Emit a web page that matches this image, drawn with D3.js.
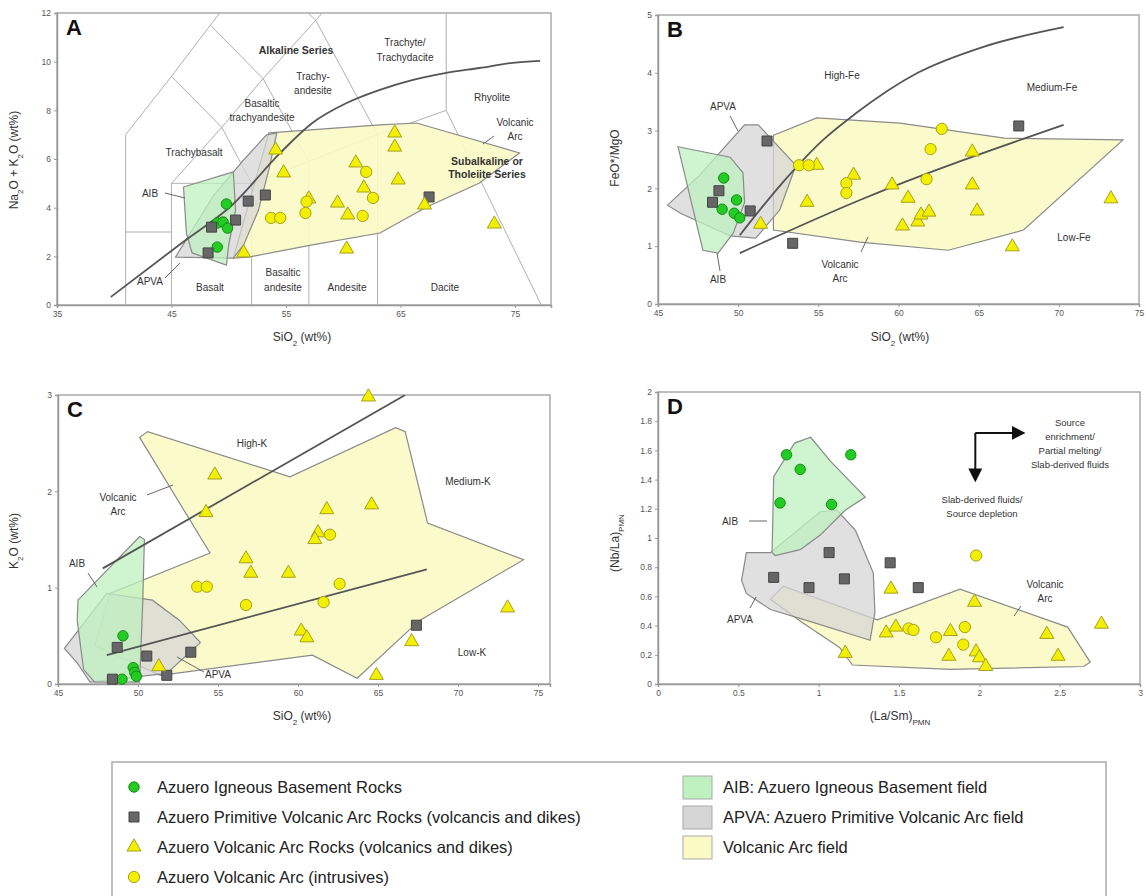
<!DOCTYPE html>
<html>
<head>
<meta charset="utf-8">
<script src="https://cdn.jsdelivr.net/npm/d3@7"></script>
<style>
  body { margin: 0; background: #fff; }
  text { font-family: Arial, "Liberation Sans", sans-serif; }
</style>
</head>
<body>
<svg id="chart" width="1146" height="896"></svg>
<script>
// ---------- data ----------
// A: TAS (SiO2 vs Na2O+K2O)
const tasAib = [[49.8,4.15],[49.0,3.37],[49.5,3.41],[49.9,3.16],[49.0,2.38]];
const tasApva = [[51.7,4.27],[53.2,4.52],[50.6,3.49],[48.5,3.2],[48.2,2.14],[67.5,4.44]];
const tasArcVolc = [[54.1,6.37],[54.8,5.43],[51.3,2.14],[57.0,4.36],[59.5,4.19],[60.4,3.70],[61.1,5.84],
  [61.8,4.81],[60.3,2.30],[64.5,7.07],[64.5,6.49],[64.8,5.14],[67.1,4.11],[73.2,3.33]];
const tasArcIntr = [[53.7,3.58],[54.5,3.58],[56.8,4.25],[56.7,3.78],[62.0,5.47],[62.6,4.40],[61.7,3.66]];
const tasFieldAib = [[46.05,4.85],[50.4,5.47],[50.6,3.9],[50.0,2.47],[49.8,1.64],[46.8,2.14],[46.3,2.96]];
const tasFieldApva = [[45.35,1.97],[48.7,4.52],[51.3,5.96],[53.3,6.99],[54.2,7.07],[53.5,5.55],[52.6,3.9],[51.3,2.47],[50.4,1.93]];
const tasFieldArc = [[53.5,7.07],[63.2,7.40],[66.4,7.48],[75.4,6.25],[71.9,5.01],[67.3,4.03],[63.2,2.96],[57.3,2.47],[51.75,1.97],[50.4,1.93]];
const tasGrid = [
  [[41,0],[41,7],[45,9.4],[48.4,11.5],[52.5,14]],
  [[45,0],[45,5],[49.4,7.3],[53,9.3],[57.6,11.7],[61,13.5]],
  [[52,0],[52,5],[57,5.9],[63,7],[69,8],[69,12]],
  [[57,0],[57,5.9]], [[63,0],[63,7]], [[69,8],[77.3,0]],
  [[41,3],[45,3]], [[45,5],[52,5]], [[45,9.4],[49.4,7.3]], [[49.4,7.3],[52,5]],
  [[48.4,11.5],[53,9.3]], [[53,9.3],[57,5.9]], [[52.5,14],[57.6,11.7]], [[57.6,11.7],[63,7]]
];
const tasAlkDivide = [[39.7,0.33],[45.9,2.55],[50.3,4.11],[54.5,6.25],[57.3,7.48],[60.3,8.30],[63.2,8.84],
  [66.1,9.25],[69.0,9.54],[71.9,9.74],[74.8,9.95],[77.2,10.03]];

// B: SiO2 vs FeO*/MgO
const feAib = [[49.1,2.18],[49.9,1.80],[49.0,1.64],[49.75,1.57],[50.1,1.49]];
const feApva = [[48.8,1.96],[48.4,1.76],[50.75,1.61],[51.8,2.82],[53.4,1.05],[67.5,3.08]];
const feArcVolc = [[51.4,1.38],[54.3,1.76],[54.9,2.40],[57.2,2.23],[59.6,2.06],[60.6,1.83],[60.25,1.35],
  [61.2,1.42],[61.4,1.54],[61.9,1.59],[64.6,2.63],[64.6,2.06],[64.9,1.61],[67.1,0.99],[73.25,1.82]];
const feArcIntr = [[53.8,2.40],[54.4,2.40],[56.75,2.09],[56.75,1.92],[62.7,3.03],[62.0,2.68],[61.75,2.16]];
const feFieldAib = [[46.25,2.72],[49.5,2.54],[50.3,2.27],[50.4,1.76],[49.7,1.23],[48.75,0.88],[47.8,0.93]];
const feFieldApva = [[45.6,1.71],[47.6,2.23],[50.4,3.10],[51.25,3.10],[53.6,2.40],[52.6,1.63],[51.1,1.14],[49.5,1.18],[46.4,1.57]];
const feFieldArc = [[52.2,2.92],[54.9,3.22],[60.1,3.13],[66.6,2.87],[74.0,2.84],[67.8,1.28],[63.1,0.93],[57.6,1.07],[52.2,1.28]];
const feHighMed = [[50.1,1.19],[52.8,2.11],[55.3,2.84],[57.3,3.29],[61.2,4.0],[65.3,4.45],[70.3,4.79]];
const feMedLow = [[50.1,0.88],[57.6,1.8],[70.3,3.1]];

// C: SiO2 vs K2O
const kAib = [[49.06,0.50],[49.7,0.17],[49.8,0.12],[49.9,0.08],[49.0,0.05]];
const kApva = [[48.7,0.38],[50.55,0.29],[53.3,0.33],[51.8,0.09],[48.4,0.05],[67.4,0.61]];
const kArcVolc = [[54.8,2.17],[54.25,1.78],[51.3,0.18],[56.75,1.30],[57.05,1.15],[59.4,1.15],[61.8,1.81],
  [64.6,1.86],[64.4,2.98],[61.25,1.57],[61.05,1.50],[60.2,0.55],[60.55,0.48],[67.1,0.44],[64.9,0.09],[73.1,0.79]];
const kArcIntr = [[53.7,1.01],[54.3,1.01],[56.75,0.82],[62.0,1.55],[62.6,1.04],[61.6,0.85]];
const kFieldAib = [[46.25,0.87],[50.1,1.53],[50.4,1.5],[50.3,0.87],[50.1,0.02],[47.3,0.02],[46.6,0.15],[46.2,0.66]];
const kFieldApva = [[45.4,0.37],[48.05,0.94],[50.9,0.87],[52.6,0.66],[53.9,0.43],[51.8,0.11],[47.0,0.02],[46.2,0.22]];
const kFieldArc = [[50.1,2.56],[50.6,2.62],[59.5,2.15],[66.1,2.66],[66.7,2.62],[68.1,1.67],[74.1,1.29],[67.6,0.66],
  [63.7,0.06],[60.9,0.30],[51.4,0.09],[47.3,0.40],[48.25,0.94],[54.5,1.36]];
const kHighMed = [[47.8,1.2],[66.7,3.0]];
const kMedLow = [[48.05,0.30],[68.05,1.19]];

// D: (La/Sm)PMN vs (Nb/La)PMN
const nbAib = [[0.80,1.57],[0.885,1.47],[0.76,1.24],[1.08,1.23],[1.2,1.57]];
const nbApva = [[0.72,0.73],[0.94,0.66],[1.065,0.90],[1.16,0.72],[1.445,0.83],[1.62,0.66]];
const nbArcVolc = [[1.165,0.21],[1.45,0.65],[1.97,0.56],[1.42,0.35],[1.48,0.39],[1.82,0.36],[1.81,0.19],
  [1.98,0.22],[2.0,0.18],[2.04,0.12],[2.42,0.34],[2.49,0.19],[2.76,0.41]];
const nbArcIntr = [[1.98,0.88],[1.56,0.38],[1.59,0.37],[1.73,0.32],[1.91,0.39],[1.90,0.27]];
const nbFieldAib = [[0.71,0.90],[0.72,1.42],[0.85,1.65],[0.95,1.69],[1.07,1.53],[1.29,1.28],[1.165,1.19],[1.01,1.02],[0.885,0.92],[0.73,0.88]];
const nbFieldApva = [[0.55,0.90],[0.70,0.90],[1.01,1.18],[1.115,1.19],[1.23,1.05],[1.34,0.76],[1.35,0.49],[1.32,0.30],
  [1.26,0.32],[0.97,0.42],[0.70,0.51],[0.55,0.62],[0.52,0.71]];
const nbFieldArc = [[0.70,0.58],[0.78,0.67],[1.26,0.48],[1.365,0.44],[1.88,0.65],[2.55,0.39],[2.69,0.15],[2.65,0.12],
  [1.82,0.10],[1.21,0.13],[1.13,0.25],[0.9,0.42]];

const legendPoints = [
  "Azuero Igneous Basement Rocks",
  "Azuero Primitive Volcanic Arc Rocks (volcancis and dikes)",
  "Azuero Volcanic Arc Rocks (volcanics and dikes)",
  "Azuero Volcanic Arc (intrusives)"
];
const legendFields = [
  "AIB: Azuero Igneous Basement field",
  "APVA: Azuero Primitive Volcanic Arc field",
  "Volcanic Arc field"
];

// ---------- styles ----------
const col = {
  aib: "#22cc22", aibStroke: "#168a16",
  apva: "#666666", apvaStroke: "#444",
  arc: "#f2f000", arcStroke: "#a8a020",
  fAib: "#bff0c0", fApva: "#d6d6d6", fArc: "#fafac4",
  edge: "#8a8a8a", txt: "#333"
};

const svg = d3.select("#chart");
const line = (x, y) => d3.line().x(d => x(d[0])).y(d => y(d[1]));

function panel(o) {
  const x = d3.scaleLinear().domain(o.xDomain).range([o.left, o.right]);
  const y = d3.scaleLinear().domain(o.yDomain).range([o.bottom, o.top]);
  const g = svg.append("g");
  const id = "clip" + o.name;
  svg.append("clipPath").attr("id", id).append("rect")
    .attr("x", o.left).attr("y", o.top).attr("width", o.right - o.left).attr("height", o.bottom - o.top);

  g.append("rect").attr("x", o.left).attr("y", o.top)
    .attr("width", o.right - o.left).attr("height", o.bottom - o.top)
    .attr("fill", "#fff").attr("stroke", "#aaa").attr("stroke-width", 1.5);

  const inner = g.append("g").attr("clip-path", `url(#${id})`);

  const xAxis = d3.axisBottom(x).tickValues(o.xTicks).tickSize(3).tickFormat(o.xFmt || d3.format("d"));
  const yAxis = d3.axisLeft(y).tickValues(o.yTicks).tickSize(3).tickFormat(o.yFmt || d3.format("d"));
  const ax = g.append("g").attr("transform", `translate(0,${o.bottom})`).call(xAxis);
  const ay = g.append("g").attr("transform", `translate(${o.left},0)`).call(yAxis);
  [ax, ay].forEach(a => {
    a.select(".domain").attr("stroke", "#999").attr("stroke-width", 1.5);
    a.selectAll(".tick line").attr("stroke", "#999");
    a.selectAll(".tick text").attr("fill", "#555").attr("font-size", 8.5)
      .attr("font-family", "Arial, 'Liberation Sans', sans-serif");
  });

  g.append("text").attr("x", o.left + 9).attr("y", o.top + 22)
    .attr("font-size", 22).attr("font-weight", "bold").attr("fill", "#111").text(o.name);

  return { g, inner, x, y };
}

function fields(p, aib, apva, arc) {
  const l = line(p.x, p.y).curve(d3.curveLinearClosed);
  p.inner.append("path").attr("d", l(arc)).attr("fill", col.fArc).attr("fill-opacity", 0.9)
    .attr("stroke", col.edge).attr("stroke-width", 1.2);
  p.inner.append("path").attr("d", l(apva)).attr("fill", col.fApva).attr("fill-opacity", 0.75)
    .attr("stroke", col.edge).attr("stroke-width", 1.2);
  p.inner.append("path").attr("d", l(aib)).attr("fill", col.fAib).attr("fill-opacity", 0.75)
    .attr("stroke", col.edge).attr("stroke-width", 1.2);
}

function boundary(p, pts, curve) {
  p.inner.append("path").attr("d", line(p.x, p.y).curve(curve || d3.curveLinear)(pts))
    .attr("fill", "none").attr("stroke", "#555").attr("stroke-width", 1.8);
}

const sym = {
  circle: d3.symbol().type(d3.symbolCircle).size(85),
  square: d3.symbol().type(d3.symbolSquare).size(100),
  triangle: d3.symbol().type(d3.symbolTriangle).size(85),
  bigCircle: d3.symbol().type(d3.symbolCircle).size(100)
};

function points(p, aib, apva, volc, intr) {
  const draw = (data, s, fill, stroke) => p.g.append("g").selectAll("path").data(data).join("path")
    .attr("transform", d => `translate(${p.x(d[0])},${p.y(d[1])})`)
    .attr("d", s).attr("fill", fill).attr("stroke", stroke).attr("stroke-width", 1);
  draw(aib, sym.circle(), col.aib, col.aibStroke);
  draw(apva, sym.square(), col.apva, col.apvaStroke);
  draw(volc, sym.triangle(), col.arc, col.arcStroke);
  draw(intr, sym.bigCircle(), col.arc, col.arcStroke);
}

function label(p, px, py, lines, opt = {}) {
  const t = p.g.append("text").attr("x", px).attr("y", py)
    .attr("font-size", opt.size || 10).attr("fill", opt.color || col.txt)
    .attr("text-anchor", opt.anchor || "middle").attr("font-weight", opt.bold ? "bold" : null);
  lines.forEach((s, i) => t.append("tspan").attr("x", px).attr("dy", i ? (opt.lh || 13) : 0).text(s));
}

function leader(p, x1, y1, x2, y2) {
  p.g.append("line").attr("x1", x1).attr("y1", y1).attr("x2", x2).attr("y2", y2)
    .attr("stroke", "#666").attr("stroke-width", 1);
}

function axisTitleX(cx, cy, parts) {
  const t = svg.append("text").attr("x", cx).attr("y", cy).attr("text-anchor", "middle")
    .attr("font-size", 12).attr("fill", "#333");
  parts.forEach(([s, sub]) => t.append("tspan").attr("font-size", sub ? 8 : 12)
    .attr("baseline-shift", sub ? "sub" : null).text(s));
}
function axisTitleY(cx, cy, parts) {
  const t = svg.append("text").attr("transform", `translate(${cx},${cy}) rotate(-90)`)
    .attr("text-anchor", "middle").attr("font-size", 12).attr("fill", "#333");
  parts.forEach(([s, sub]) => t.append("tspan").attr("font-size", sub ? 8 : 12)
    .attr("baseline-shift", sub ? "sub" : null).text(s));
}

// ---------- Panel A ----------
const pA = panel({ name: "A", left: 57, right: 551, top: 13, bottom: 305,
  xDomain: [35, 78.15], yDomain: [0, 12], xTicks: [35, 45, 55, 65, 75], yTicks: [0, 2, 4, 6, 8, 10, 12] });
tasGrid.forEach(seg => pA.inner.append("path").attr("d", line(pA.x, pA.y)(seg))
  .attr("fill", "none").attr("stroke", "#b0b0b0").attr("stroke-width", 1));
fields(pA, tasFieldAib, tasFieldApva, tasFieldArc);
boundary(pA, tasAlkDivide, d3.curveMonotoneX);
points(pA, tasAib, tasApva, tasArcVolc, tasArcIntr);
label(pA, 296, 54, ["Alkaline Series"], { bold: true, size: 10.5 });
label(pA, 405, 46, ["Trachyte/", "Trachydacite"], { lh: 15 });
label(pA, 313, 80, ["Trachy-", "andesite"], { lh: 14 });
label(pA, 262, 107, ["Basaltic", "trachyandesite"], { lh: 14 });
label(pA, 194, 156, ["Trachybasalt"]);
label(pA, 150, 197, ["AIB"]);
leader(pA, 165, 193, 185, 198);
label(pA, 150, 285, ["APVA"]);
leader(pA, 165, 278, 180, 263);
label(pA, 210, 291, ["Basalt"]);
label(pA, 283, 276, ["Basaltic", "andesite"], { lh: 15 });
label(pA, 347, 291, ["Andesite"]);
label(pA, 445, 291, ["Dacite"]);
label(pA, 492, 101, ["Rhyolite"]);
label(pA, 515, 126, ["Volcanic", "Arc"], { lh: 14 });
leader(pA, 494, 136, 483, 144);
label(pA, 487, 165, ["Subalkaline or", "Tholeiite Series"], { bold: true, size: 10.5, lh: 13 });
axisTitleY(18, 160, [["Na"], ["2", 1], ["O + K"], ["2", 1], ["O (wt%)"]]);
axisTitleX(302, 341, [["SiO"], ["2", 1], [" (wt%)"]]);

// ---------- Panel B ----------
const pB = panel({ name: "B", left: 658, right: 1139, top: 15, bottom: 304,
  xDomain: [45, 75], yDomain: [0, 5], xTicks: [45, 50, 55, 60, 65, 70, 75], yTicks: [0, 1, 2, 3, 4, 5] });
fields(pB, feFieldAib, feFieldApva, feFieldArc);
boundary(pB, feHighMed, d3.curveMonotoneX);
boundary(pB, feMedLow, d3.curveMonotoneX);
points(pB, feAib, feApva, feArcVolc, feArcIntr);
label(pB, 842, 79, ["High-Fe"]);
label(pB, 1052, 91, ["Medium-Fe"]);
label(pB, 1074, 241, ["Low-Fe"]);
label(pB, 723, 110, ["APVA"]);
leader(pB, 730, 116, 738, 131);
label(pB, 718, 283, ["AIB"]);
leader(pB, 720, 271, 717, 253);
label(pB, 840, 268, ["Volcanic", "Arc"], { lh: 14 });
leader(pB, 861, 252, 868, 237);
axisTitleY(619, 158, [["FeO*/MgO"]]);
axisTitleX(900, 341, [["SiO"], ["2", 1], [" (wt%)"]]);

// ---------- Panel C ----------
const pC = panel({ name: "C", left: 58, right: 550, top: 395, bottom: 684,
  xDomain: [45, 75.75], yDomain: [0, 3], xTicks: [45, 50, 55, 60, 65, 70, 75], yTicks: [0, 1, 2, 3] });
fields(pC, kFieldAib, kFieldApva, kFieldArc);
boundary(pC, kHighMed);
boundary(pC, kMedLow);
points(pC, kAib, kApva, kArcVolc, kArcIntr);
label(pC, 252, 447, ["High-K"]);
label(pC, 118, 501, ["Volcanic", "Arc"], { lh: 14 });
leader(pC, 147, 495, 173, 485);
label(pC, 77, 567, ["AIB"]);
leader(pC, 88, 573, 97, 587);
label(pC, 218, 678, ["APVA"]);
leader(pC, 204, 672, 177, 657);
label(pC, 468, 485, ["Medium-K"]);
label(pC, 472, 656, ["Low-K"]);
axisTitleY(18, 541, [["K"], ["2", 1], ["O (wt%)"]]);
axisTitleX(302, 720, [["SiO"], ["2", 1], [" (wt%)"]]);

// ---------- Panel D ----------
const pD = panel({ name: "D", left: 658, right: 1140, top: 392, bottom: 684,
  xDomain: [0, 3], yDomain: [0, 2], xTicks: [0, 0.5, 1, 1.5, 2, 2.5, 3],
  yTicks: d3.range(0, 2.01, 0.2), xFmt: d3.format("~g"), yFmt: d3.format("~g") });
fields(pD, nbFieldAib, nbFieldApva, nbFieldArc);
points(pD, nbAib, nbApva, nbArcVolc, nbArcIntr);
// process arrows
const arrowCorner = [1.975, 1.72], arrowRight = [2.27, 1.72], arrowDown = [1.975, 1.40];
svg.append("defs").append("marker").attr("id", "ah").attr("viewBox", "0 0 10 10")
  .attr("refX", 8).attr("refY", 5).attr("markerWidth", 7).attr("markerHeight", 7).attr("orient", "auto")
  .append("path").attr("d", "M0,0 L10,5 L0,10 z").attr("fill", "#111");
[arrowRight, arrowDown].forEach(e => pD.g.append("line")
  .attr("x1", pD.x(arrowCorner[0])).attr("y1", pD.y(arrowCorner[1]))
  .attr("x2", pD.x(e[0])).attr("y2", pD.y(e[1]))
  .attr("stroke", "#111").attr("stroke-width", 2).attr("marker-end", "url(#ah)"));
label(pD, 1070, 426, ["Source", "enrichment/", "Partial melting/", "Slab-derived fluids"], { size: 9.5, lh: 14 });
label(pD, 982, 503, ["Slab-derived fluids/", "Source depletion"], { size: 9.5, lh: 14 });
label(pD, 730, 525, ["AIB"]);
leader(pD, 749, 521, 767, 521);
label(pD, 740, 623, ["APVA"]);
leader(pD, 750, 608, 756, 597);
label(pD, 1045, 588, ["Volcanic", "Arc"], { lh: 14 });
leader(pD, 1021, 606, 1014, 616);
axisTitleY(619, 543, [["(Nb/La)"], ["PMN", 1]]);
axisTitleX(900, 720, [["(La/Sm)"], ["PMN", 1]]);

// ---------- Legend ----------
const lg = svg.append("g");
lg.append("rect").attr("x", 112).attr("y", 762).attr("width", 994).attr("height", 150)
  .attr("fill", "#fff").attr("stroke", "#aaa").attr("stroke-width", 1.5);
const rowY = d3.scaleLinear().domain([0, 3]).range([787, 877]);
const legendSym = [
  [sym.circle(), col.aib, col.aibStroke],
  [sym.square(), col.apva, col.apvaStroke],
  [sym.triangle(), col.arc, col.arcStroke],
  [sym.bigCircle(), col.arc, col.arcStroke]
];
legendPoints.forEach((s, i) => {
  lg.append("path").attr("transform", `translate(134,${rowY(i)})`).attr("d", legendSym[i][0])
    .attr("fill", legendSym[i][1]).attr("stroke", legendSym[i][2]);
  lg.append("text").attr("x", 157).attr("y", rowY(i) + 6).attr("font-size", 16.5).attr("fill", "#222").text(s);
});
const swatch = [[col.fAib, 0.75], [col.fApva, 0.75], [col.fArc, 0.9]];
legendFields.forEach((s, i) => {
  lg.append("rect").attr("x", 683).attr("y", rowY(i) - 11).attr("width", 29).attr("height", 23)
    .attr("fill", swatch[i][0]).attr("stroke", "#aaa");
  lg.append("text").attr("x", 723).attr("y", rowY(i) + 6).attr("font-size", 16.5).attr("fill", "#222").text(s);
});
</script>
</body>
</html>
